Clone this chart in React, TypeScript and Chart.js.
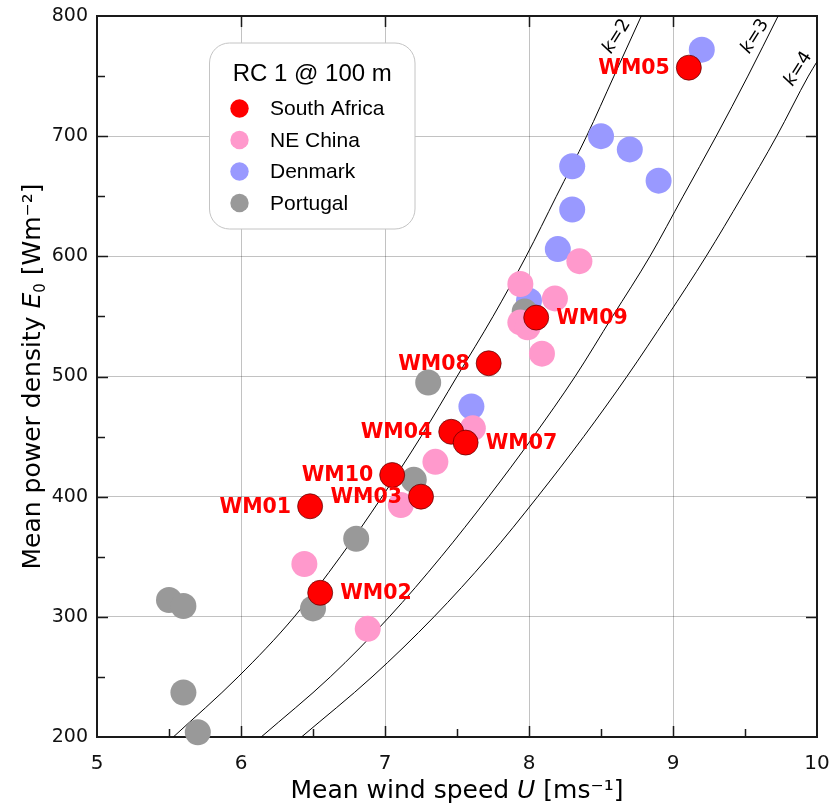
import { useEffect, useRef } from "react";
import { Chart, registerables } from "chart.js";
Chart.register(...registerables);

// ---- data ----
const southAfricaU = [6.48, 6.55, 7.25, 7.46, 9.11, 7.56, 7.72, 8.05, 7.05];
const southAfricaE = [392, 320, 400, 454, 757, 445, 511, 549, 418];
const southAfricaNames = ["WM01", "WM02", "WM03", "WM04", "WM05", "WM07", "WM08", "WM09", "WM10"];
const southAfricaNameSide = ["left", "right", "left", "left", "left", "right", "left", "right", "left"];

const chinaU = [8.35, 7.94, 8.18, 7.94, 7.99, 8.09, 7.61, 7.35, 7.11, 6.44, 6.88];
const chinaE = [596, 577, 565, 545, 541, 519, 457, 429, 393, 344, 290];

const denmarkU = [9.2, 8.5, 8.7, 8.3, 8.9, 8.3, 8.2, 8.0, 7.6];
const denmarkE = [772, 700, 689, 675, 663, 639, 606, 563, 475];

const portugalU = [7.3, 7.2, 6.8, 6.5, 5.5, 5.6, 5.6, 5.7, 7.97];
const portugalE = [495, 414, 365, 307, 314, 309, 237, 204, 554];

const curveE = [200, 250, 300, 350, 400, 450, 500, 550, 600, 650, 700, 750, 800];
const k2U = [5.53, 5.98, 6.37, 6.69, 6.98, 7.25, 7.5, 7.75, 7.98, 8.19, 8.4, 8.59, 8.78];
const k3U = [6.14, 6.62, 7.03, 7.39, 7.72, 8.03, 8.32, 8.58, 8.84, 9.07, 9.3, 9.52, 9.73];
const k4E = [200, 250, 300, 350, 400, 450, 500, 550, 600, 650, 700, 750, 762];
const k4U = [6.42, 6.91, 7.34, 7.72, 8.06, 8.38, 8.68, 8.96, 9.23, 9.48, 9.72, 9.94, 10.0];

const curveNames = ["k=2", "k=3", "k=4"];
const curveLabelU = [8.61, 9.57, 9.87];
const curveLabelE = [783, 783, 756];

const xTicksMajor = [5, 6, 7, 8, 9, 10];
const yTicksMajor = [200, 300, 400, 500, 600, 700, 800];

const legendTitle = "RC 1 @ 100 m";

const pts = (us: number[], es: number[]) => us.map((u, i) => ({ x: u, y: es[i] }));

const SANS = "'DejaVu Sans', Verdana, sans-serif";
const ARIAL = "'Liberation Sans', Arial, sans-serif";

function drawSegments(ctx: CanvasRenderingContext2D, segs: { t: string; f: string; dy?: number }[], cx: number, cy: number) {
  let total = 0;
  const ws: number[] = [];
  for (const s of segs) {
    ctx.font = s.f;
    const w = ctx.measureText(s.t).width;
    ws.push(w);
    total += w;
  }
  let x = cx - total / 2;
  segs.forEach((s, i) => {
    ctx.font = s.f;
    ctx.fillText(s.t, x, cy + (s.dy || 0));
    x += ws[i];
  });
}

const overlay = {
  id: "overlay",
  beforeDatasetsDraw(chart: any) {
    const ctx: CanvasRenderingContext2D = chart.ctx;
    const { left, right, top, bottom } = chart.chartArea;
    const xs = chart.scales.x;
    const ys = chart.scales.y;
    ctx.save();
    ctx.strokeStyle = "#1a1a1a";
    ctx.lineWidth = 1.5;
    ctx.beginPath();
    for (let u = 5.5; u < 10; u += 0.5) {
      const px = Math.round(xs.getPixelForValue(u)) + 0.5;
      const major = Math.abs(u - Math.round(u)) < 1e-6;
      ctx.moveTo(px, bottom);
      ctx.lineTo(px, bottom - (major ? 11 : 8));
      if (major) {
        ctx.moveTo(px, top);
        ctx.lineTo(px, top + 11);
      }
    }
    for (let e = 250; e < 800; e += 50) {
      const py = Math.round(ys.getPixelForValue(e)) + 0.5;
      const major = e % 100 === 0;
      ctx.moveTo(left, py);
      ctx.lineTo(left + (major ? 11 : 8), py);
      if (major) {
        ctx.moveTo(right, py);
        ctx.lineTo(right - 11, py);
      }
    }
    ctx.stroke();
    ctx.lineWidth = 2;
    ctx.strokeRect(left, top, right - left, bottom - top);
    ctx.restore();
  },
  afterDatasetsDraw(chart: any) {
    const ctx: CanvasRenderingContext2D = chart.ctx;
    const xs = chart.scales.x;
    const ys = chart.scales.y;
    ctx.save();
    // WM labels
    ctx.fillStyle = "#ff0000";
    ctx.font = `bold 20.5px ${SANS}`;
    ctx.textBaseline = "middle";
    southAfricaNames.forEach((n, i) => {
      const px = xs.getPixelForValue(southAfricaU[i]);
      const py = ys.getPixelForValue(southAfricaE[i]);
      if (southAfricaNameSide[i] === "left") {
        ctx.textAlign = "right";
        ctx.fillText(n, px - 19, py + 1);
      } else {
        ctx.textAlign = "left";
        ctx.fillText(n, px + 20, py + 1);
      }
    });
    // curve labels
    ctx.fillStyle = "#000";
    ctx.textAlign = "left";
    ctx.textBaseline = "middle";
    curveNames.forEach((n, i) => {
      const px = xs.getPixelForValue(curveLabelU[i]);
      const py = ys.getPixelForValue(curveLabelE[i]);
      ctx.save();
      ctx.translate(px, py);
      ctx.rotate((-58 * Math.PI) / 180);
      drawSegments(
        ctx,
        [
          { t: n.slice(0, 1), f: `italic 18px ${SANS}` },
          { t: n.slice(1), f: `18px ${SANS}` },
        ],
        0,
        0
      );
      ctx.restore();
    });
    ctx.restore();
  },
  afterDraw(chart: any) {
    const ctx: CanvasRenderingContext2D = chart.ctx;
    const { left, right, top, bottom } = chart.chartArea;
    ctx.save();
    // legend
    const bx = 209.5, by = 43, bw = 205.5, bh = 186;
    ctx.beginPath();
    (ctx as any).roundRect(bx, by, bw, bh, 20);
    ctx.fillStyle = "#fff";
    ctx.fill();
    ctx.strokeStyle = "#c4c4c4";
    ctx.lineWidth = 1;
    ctx.stroke();
    ctx.fillStyle = "#000";
    ctx.font = `24px ${ARIAL}`;
    ctx.textAlign = "center";
    ctx.textBaseline = "middle";
    ctx.fillText(legendTitle, bx + bw / 2, 74);
    const sets = chart.data.datasets.filter((d: any) => !d.showLine);
    sets.forEach((d: any, i: number) => {
      const yc = 108.5 + i * 31.5;
      ctx.beginPath();
      ctx.arc(239.5, yc, 9.2, 0, Math.PI * 2);
      ctx.fillStyle = d.backgroundColor;
      ctx.fill();
      ctx.fillStyle = "#000";
      ctx.font = `21px ${ARIAL}`;
      ctx.textAlign = "left";
      ctx.fillText(d.label, 270, yc + 1);
    });
    // axis titles
    ctx.fillStyle = "#000";
    ctx.textAlign = "left";
    ctx.textBaseline = "alphabetic";
    drawSegments(
      ctx,
      [
        { t: "Mean wind speed ", f: `25px ${SANS}` },
        { t: "U", f: `italic 25px ${SANS}` },
        { t: " [ms\u207B\u00B9]", f: `25px ${SANS}` },
      ],
      (left + right) / 2,
      798
    );
    ctx.save();
    ctx.translate(40, (top + bottom) / 2);
    ctx.rotate(-Math.PI / 2);
    drawSegments(
      ctx,
      [
        { t: "Mean power density ", f: `25px ${SANS}` },
        { t: "E", f: `italic 25px ${SANS}` },
        { t: "0", f: `15px ${SANS}`, dy: 5 },
        { t: " [Wm", f: `25px ${SANS}` },
        { t: "\u207B\u00B2", f: `25px ${SANS}` },
        { t: "]", f: `25px ${SANS}` },
      ],
      0,
      0
    );
    ctx.restore();
    ctx.restore();
  },
};

export default function App() {
  const ref = useRef<HTMLCanvasElement | null>(null);
  useEffect(() => {
    if (!ref.current) return;
    const pointDs = (label: string, data: any[], color: string, order: number, border = "rgba(0,0,0,0)", bw = 0, r = 13) => ({
      type: "scatter" as const,
      label,
      data,
      backgroundColor: color,
      borderColor: border,
      borderWidth: bw,
      pointRadius: r,
      pointHoverRadius: r,
      order,
      clip: false as any,
      showLine: false,
    });
    const lineDs = (label: string, data: any[]) => ({
      type: "line" as const,
      label,
      data,
      borderColor: "#000",
      borderWidth: 1,
      pointRadius: 0,
      fill: false,
      showLine: true,
      cubicInterpolationMode: "monotone" as const,
      order: 10,
    });
    const chart = new Chart(ref.current, {
      type: "scatter",
      data: {
        datasets: [
          pointDs("South Africa", pts(southAfricaU, southAfricaE), "#ff0000", 0, "rgba(90,0,0,0.7)", 1, 12.5),
          pointDs("NE China", pts(chinaU, chinaE), "#ff99cc", 1),
          pointDs("Denmark", pts(denmarkU, denmarkE), "#9999ff", 3),
          pointDs("Portugal", pts(portugalU, portugalE), "#999999", 2),
          lineDs("k=2", pts(k2U, curveE)),
          lineDs("k=3", pts(k3U, curveE)),
          lineDs("k=4", pts(k4U, k4E)),
        ] as any,
      },
      options: {
        responsive: false,
        animation: false,
        devicePixelRatio: 1,
        layout: { padding: { top: 16, right: 14, left: 0, bottom: 0 } },
        plugins: { legend: { display: false }, tooltip: { enabled: false } },
        scales: {
          x: {
            type: "linear",
            min: 5,
            max: 10,
            afterBuildTicks: (s: any) => {
              s.ticks = xTicksMajor.map((v) => ({ value: v }));
            },
            afterFit: (s: any) => {
              s.height = 71;
              s.paddingLeft = 0;
              s.paddingRight = 0;
            },
            ticks: { color: "#111", font: { family: SANS, size: 20 }, padding: 15 },
            grid: { color: "rgba(0,0,0,0.24)", lineWidth: 1, drawTicks: false },
            border: { display: false },
          },
          y: {
            type: "linear",
            min: 200,
            max: 800,
            afterBuildTicks: (s: any) => {
              s.ticks = yTicksMajor.map((v) => ({ value: v }));
            },
            afterFit: (s: any) => {
              s.width = 97;
              s.paddingTop = 0;
              s.paddingBottom = 0;
            },
            ticks: { color: "#111", font: { family: SANS, size: 19 }, padding: 9 },
            grid: { color: "rgba(0,0,0,0.24)", lineWidth: 1, drawTicks: false },
            border: { display: false },
          },
        },
      },
      plugins: [overlay],
    });
    return () => chart.destroy();
  }, []);
  return (
    <div style={{ position: "absolute", left: 0, top: 0, width: 831, height: 808, background: "#fff" }}>
      <canvas ref={ref} width={831} height={808} style={{ display: "block", width: 831, height: 808 }} />
    </div>
  );
}
